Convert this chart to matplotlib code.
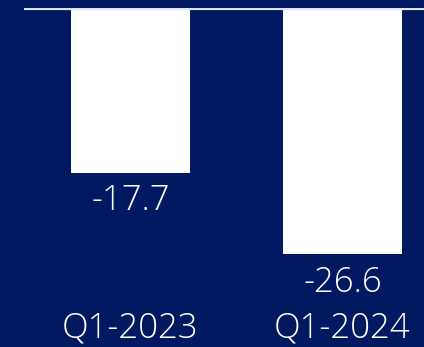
import matplotlib
matplotlib.use('Agg')
import matplotlib.pyplot as plt
import matplotlib.transforms as mtransforms

# quarterly values
quarters = ['Q1-2023', 'Q1-2024']
values = [-17.7, -26.6]

navy = '#001960'
plt.rcParams['font.family'] = ['Open Sans', 'DejaVu Sans']

fig = plt.figure(figsize=(4.24, 3.47), dpi=100, facecolor=navy)
ax = fig.add_axes([24 / 424, 0, 400 / 424, 339 / 347])
ax.set_facecolor(navy)

xs = list(range(len(quarters)))
bars = ax.bar(xs, values, width=0.56, color='white', edgecolor='none')
ax.axhline(0.15, color='#dfe3ee', lw=1.6)

ax.set_xlim(-0.502, 1.385)
ax.set_ylim(-36.7, 0.25)
ax.axis('off')

# value labels just under each bar
for x, v in zip(xs, values):
    ax.annotate(f'{v:.1f}', (x, v), xytext=(0, -8), textcoords='offset points',
                ha='center', va='top', color='white', fontsize=25, fontweight='light')

# category names along the bottom
trans = mtransforms.blended_transform_factory(ax.transData, fig.transFigure)
for x, q in zip(xs, quarters):
    ax.text(x, 1 - 328 / 347, q, transform=trans, ha='center', va='center',
            color='white', fontsize=25, fontweight='light')

fig.savefig('out.png', dpi=100, facecolor=navy)
